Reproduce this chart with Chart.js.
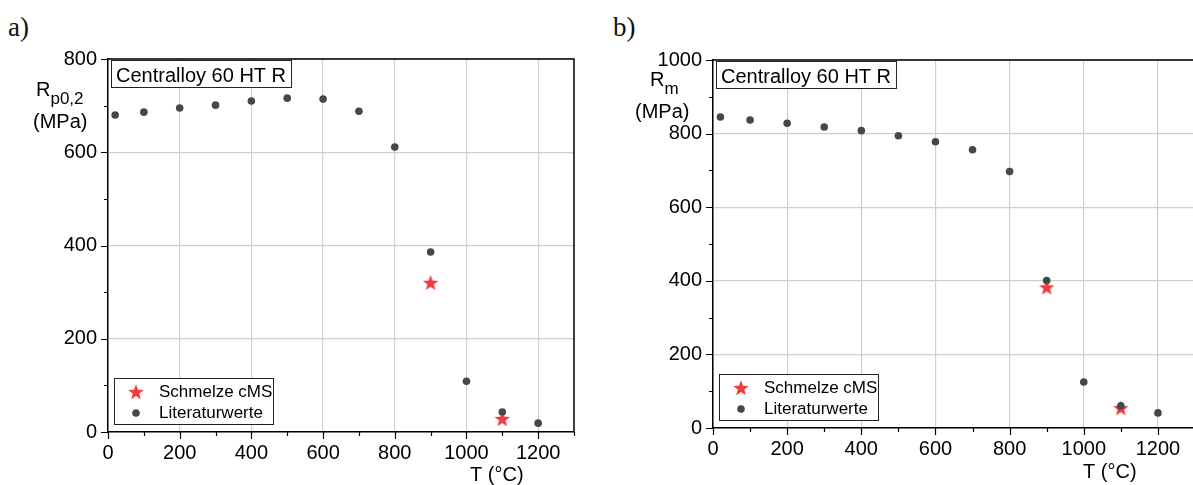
<!DOCTYPE html>
<html>
<head>
<meta charset="utf-8">
<script src="https://cdn.jsdelivr.net/npm/chart.js@4.4.1/dist/chart.umd.min.js"></script>
<style>
  html, body { margin: 0; padding: 0; background: #fff; overflow: hidden; }
  body { width: 1193px; height: 485px; position: relative; }
  .panel { position: absolute; top: 0; height: 485px; }
  .panel canvas { display: block; }
  .tag { position: absolute; top: 12px; font-family: "Liberation Serif", serif; font-size: 27px; color: #111; }
</style>
</head>
<body>
<div class="tag" style="left:8px">a)</div>
<div class="tag" style="left:613px">b)</div>
<div class="panel" style="left:0px; width:590px"><canvas id="chartA" width="590" height="485" style="width:590px;height:485px"></canvas></div>
<div class="panel" style="left:600px; width:596px"><canvas id="chartB" width="596" height="485" style="width:596px;height:485px"></canvas></div>

<script>
// Temperaturen (°C)
const tempLit = [20, 100, 200, 300, 400, 500, 600, 700, 800, 900, 1000, 1100, 1200];
const tempCms = [900, 1100];

// Dehngrenze Rp0,2 (MPa)
const rpLit = [680, 686, 695, 701, 710, 716, 714, 688, 611, 386, 109, 43, 19];
const rpCms = [320, 28];

// Zugfestigkeit Rm (MPa)
const rmLit = [845, 837, 828, 818, 808, 794, 778, 756, 697, 401, 125, 60, 41];
const rmCms = [382, 54];

const xTicks = [0, 200, 400, 600, 800, 1000, 1200];
const yTicksA = [0, 200, 400, 600, 800];
const yTicksB = [0, 200, 400, 600, 800, 1000];

const seriesNames = ["Schmelze cMS", "Literaturwerte"];
const boxTitle = "Centralloy 60 HT R";

const RED = "rgb(240,60,60)";
const GREY = "#474747";
const FONT = "Liberation Sans, Arial, sans-serif";

// gefüllter Stern als Punktsymbol
function makeStar(size) {
  const c = document.createElement("canvas");
  c.width = size; c.height = size;
  const g = c.getContext("2d");
  const cx = size / 2, cy = size / 2 + 0.5, R = size / 2 - 0.8, r = R * 0.42;
  g.beginPath();
  for (let i = 0; i < 10; i++) {
    const rad = i % 2 === 0 ? R : r;
    const a = -Math.PI / 2 + i * Math.PI / 5;
    g.lineTo(cx + rad * Math.cos(a), cy + rad * Math.sin(a));
  }
  g.closePath();
  g.fillStyle = RED;
  g.fill();
  return c;
}
const starImg = makeStar(18);

function pts(xs, ys) {
  return xs.map((x, i) => ({ x: x, y: ys[i] }));
}

// Rahmen, Zusatzstriche, Textbox, Legende und Achsentitel
const decoPlugin = {
  id: "deco",
  afterDraw(chart, args, o) {
    const ctx = chart.ctx;
    const a = chart.chartArea;
    const sx = chart.scales.x, sy = chart.scales.y;
    ctx.save();

    // Rahmen oben und rechts
    ctx.strokeStyle = "#000";
    ctx.lineWidth = 1.5;
    ctx.beginPath();
    ctx.moveTo(a.left, a.top); ctx.lineTo(a.right, a.top); ctx.lineTo(a.right, a.bottom);
    ctx.stroke();

    // Teilstriche außen
    ctx.lineWidth = 1.2;
    ctx.beginPath();
    for (let v = 0; v <= sx.max; v += 100) {
      const px = Math.round(sx.getPixelForValue(v)) + 0.5;
      const len = v % 200 === 0 ? 7 : 4;
      ctx.moveTo(px, a.bottom); ctx.lineTo(px, a.bottom + len);
    }
    for (let v = 0; v <= sy.max; v += 100) {
      const py = Math.round(sy.getPixelForValue(v)) + 0.5;
      const len = v % 200 === 0 ? 7 : 4;
      ctx.moveTo(a.left, py); ctx.lineTo(a.left - len, py);
    }
    ctx.stroke();

    // Werkstoff-Box
    ctx.font = "20px " + FONT;
    const tw = ctx.measureText(boxTitle).width;
    ctx.fillStyle = "#fff";
    ctx.fillRect(a.left + 3, a.top + 1, tw + 10, 28);
    ctx.strokeStyle = "#222";
    ctx.lineWidth = 1;
    ctx.strokeRect(a.left + 3.5, a.top + 1.5, tw + 10, 27);
    ctx.fillStyle = "#000";
    ctx.textBaseline = "alphabetic";
    ctx.textAlign = "left";
    ctx.fillText(boxTitle, a.left + 8, a.top + 23);

    // Legende
    const lx = a.left + 6, ly = a.bottom - 54;
    ctx.fillStyle = "#fff";
    ctx.fillRect(lx, ly, 159, 46);
    ctx.strokeStyle = "#222";
    ctx.strokeRect(lx + 0.5, ly + 0.5, 159, 46);
    ctx.drawImage(starImg, lx + 22 - 9, ly + 14 - 9);
    ctx.fillStyle = GREY;
    ctx.beginPath();
    ctx.arc(lx + 22, ly + 35, 3.8, 0, Math.PI * 2);
    ctx.fill();
    ctx.fillStyle = "#000";
    ctx.font = "17px " + FONT;
    ctx.textBaseline = "middle";
    ctx.fillText(seriesNames[0], lx + 45, ly + 14);
    ctx.fillText(seriesNames[1], lx + 45, ly + 35);

    // y-Achsentitel mit Index
    ctx.textBaseline = "alphabetic";
    ctx.font = "20px " + FONT;
    ctx.fillText("R", o.yx, o.yy);
    const rw = ctx.measureText("R").width;
    ctx.font = "17px " + FONT;
    ctx.fillText(o.sub, o.yx + rw, o.yy + 8);
    ctx.font = "20px " + FONT;
    ctx.fillText("(MPa)", o.ux, o.uy);

    // x-Achsentitel
    ctx.fillText("T (°C)", o.tx, o.ty);
    ctx.restore();
  }
};

function makeConfig(lit, cms, yMax, yTicks, deco, pad, yWidth, xHeight) {
  return {
    type: "scatter",
    data: {
      datasets: [
        {
          label: seriesNames[1],
          data: pts(tempLit, lit),
          pointStyle: "circle",
          pointRadius: 3.8,
          pointHoverRadius: 3.8,
          backgroundColor: GREY,
          borderWidth: 0
        },
        {
          label: seriesNames[0],
          data: pts(tempCms, cms),
          pointStyle: starImg,
          pointRadius: 9,
          backgroundColor: RED,
          borderWidth: 0
        }
      ]
    },
    options: {
      responsive: false,
      animation: false,
      layout: { padding: pad, autoPadding: false },
      plugins: {
        legend: { display: false },
        tooltip: { enabled: false },
        deco: deco
      },
      scales: {
        x: {
          type: "linear",
          min: 0,
          max: 1300,
          afterBuildTicks: (s) => { s.ticks = xTicks.map(v => ({ value: v })); },
          afterFit: (s) => { s.height = xHeight; s.paddingRight = 0; },
          ticks: {
            font: { family: FONT, size: 20 }, color: "#000", padding: 9,
            maxRotation: 0, autoSkip: false, callback: (v) => String(v)
          },
          grid: { color: "#cfcfcf", lineWidth: 1.2, drawTicks: false },
          border: { color: "#000", width: 1.5 }
        },
        y: {
          type: "linear",
          min: 0,
          max: yMax,
          afterBuildTicks: (s) => { s.ticks = yTicks.map(v => ({ value: v })); },
          afterFit: (s) => { s.width = yWidth; },
          ticks: {
            font: { family: FONT, size: 20 }, color: "#000", padding: 11,
            autoSkip: false, callback: (v) => String(v)
          },
          grid: { color: "#cfcfcf", lineWidth: 1.2, drawTicks: false },
          border: { color: "#000", width: 1.5 }
        }
      }
    },
    plugins: [decoPlugin]
  };
}

new Chart(document.getElementById("chartA"), makeConfig(
  rpLit, rpCms, 800, yTicksA,
  { sub: "p0,2", yx: 36, yy: 96, ux: 33, uy: 128, tx: 470, ty: 481 },
  { left: 0, top: 59, right: 16, bottom: 0 }, 108, 53
));

new Chart(document.getElementById("chartB"), makeConfig(
  rmLit, rmCms, 1000, yTicksB,
  { sub: "m", yx: 50, yy: 86, ux: 35, uy: 118, tx: 483, ty: 478 },
  { left: 0, top: 60, right: 1, bottom: 0 }, 113, 57
));
</script>
</body>
</html>
